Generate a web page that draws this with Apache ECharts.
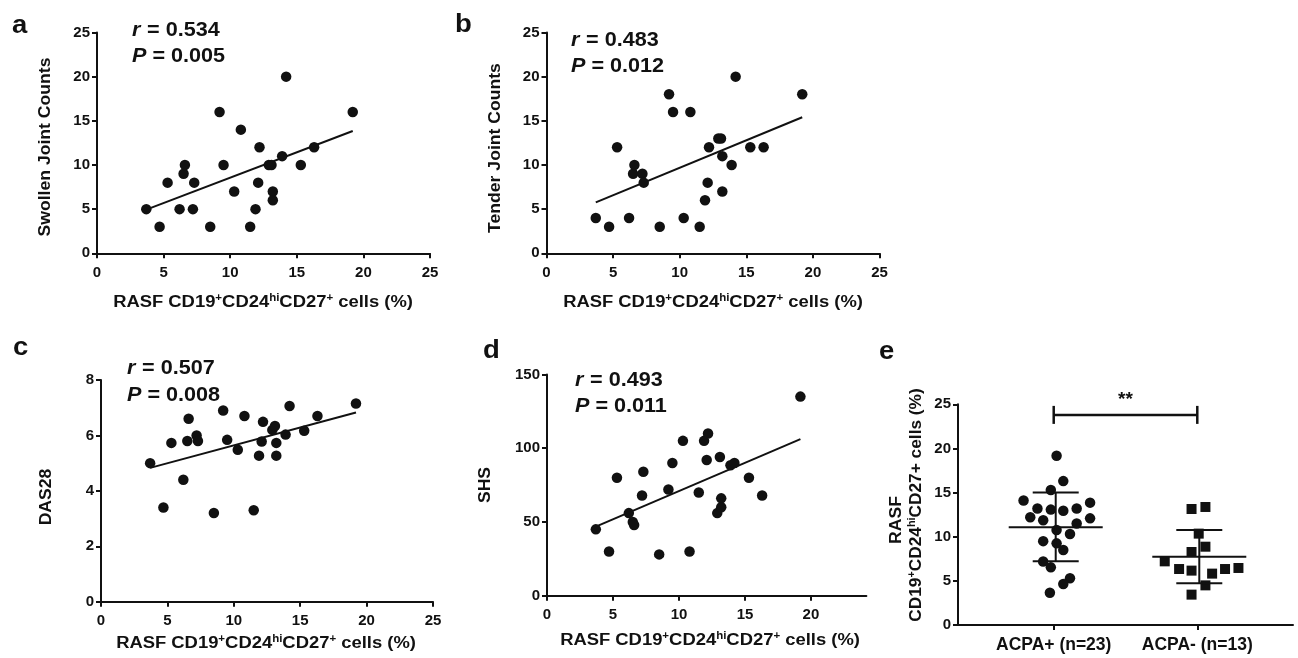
<!DOCTYPE html>
<html><head><meta charset="utf-8">
<script src="https://cdn.jsdelivr.net/npm/echarts@6/dist/echarts.min.js"></script>
<style>html,body{margin:0;padding:0;background:#fff}#c{width:1298px;height:658px}</style>
</head><body><div id="c"></div>
<script>
// ---- data ----
const cellPct = [3.7,4.7,5.3,6.2,6.5,6.6,7.2,7.3,8.5,9.2,9.5,10.3,10.8,11.5,11.9,12.1,12.2,12.9,13.1,13.2,13.2,13.9,14.2,15.3,16.3,19.2];
const swollen = [5,3,8,5,9,10,5,8,3,16,10,7,14,3,5,8,12,10,10,7,6,11,20,10,12,16];
const tender  = [4,3,12,4,9,10,9,8,3,18,16,4,16,3,6,8,12,13,13,7,11,10,20,12,12,18];
const das28   = [5.0,3.4,5.73,4.4,5.8,6.6,6.0,5.8,3.2,6.9,5.84,5.48,6.7,3.3,5.27,5.78,6.49,6.2,6.34,5.73,5.27,6.03,7.06,6.17,6.7,7.15];
const shs     = [45,30,80,56,50,48,68,84,28,72,90,105,30,70,105,92,110,56,94,66,60,88.5,90,80,68,135];

const fitSwollen = [[3.7,4.94],[19.2,13.85]];
const fitTender  = [[3.7,5.77],[19.2,15.4]];
const fitDas     = [[3.7,4.83],[19.2,6.83]];
const fitShs     = [[3.7,46.8],[19.2,106.2]];

const statR = ['0.534','0.483','0.507','0.493'];
const statP = ['0.005','0.012','0.008','0.011'];

const groupLabels = ['ACPA+ (n=23)','ACPA- (n=13)'];
const groupPos = [2,5];
const acpaPosX = [2.06,2.20,1.94,1.37,1.66,1.94,2.20,2.48,2.76,1.51,1.78,2.48,2.76,2.06,2.34,1.78,2.06,2.20,1.78,1.94,2.34,2.20,1.92];
const acpaPosY = [19.18,16.3,15.3,14.1,13.2,13.07,12.95,13.2,13.86,12.2,11.86,11.5,12.08,10.76,10.3,9.5,9.25,8.5,7.2,6.53,5.29,4.65,3.66];
const acpaNegX = [4.88,5.17,5.03,5.17,4.88,4.32,4.62,4.88,5.31,5.58,5.86,5.17,4.88];
const acpaNegY = [13.14,13.37,10.35,8.87,8.27,7.21,6.34,6.16,5.82,6.34,6.46,4.49,3.44];
const groupMean   = [11.07,7.74];
const groupSdLow  = [7.21,4.72];
const groupSdHigh = [15.0,10.76];
const sigBracket = [2,5,23.8];
const sigLabel = '**';

const xTicksD = [0,5,10,15,20];

// ---- styling ----
const FONT = '"Liberation Sans", Arial, Helvetica, sans-serif';
const INK = '#111';

function valAxis(gi, min, max, interval, isX, extra) {
  return Object.assign({
    type: 'value', gridIndex: gi, min: min, max: max, interval: interval,
    axisLine: {show: true, onZero: false, lineStyle: {color: INK, width: 2}},
    axisTick: {show: true, length: 5, lineStyle: {color: INK, width: 2}},
    axisLabel: {color: INK, fontFamily: FONT, fontWeight: 'bold', fontSize: 15, margin: isX ? 12 : 7},
    splitLine: {show: false}
  }, extra || {});
}

const grids = [
  {left: 97,    top: 32.5, width: 333, height: 220.8},
  {left: 546.5, top: 32.5, width: 333, height: 220.8},
  {left: 101,   top: 380,  width: 332, height: 221.7},
  {left: 547,   top: 374.5,width: 319.4, height: 221.2},
  {left: 958,   top: 404.3,width: 335, height: 220.7}
];

const xAxes = [
  valAxis(0, 0, 25, 5, true),
  valAxis(1, 0, 25, 5, true),
  valAxis(2, 0, 25, 5, true),
  valAxis(3, 0, 24.2, 5, true),
  {
    type: 'category', gridIndex: 4, boundaryGap: false,
    data: ['', '', groupLabels[0], '', '', groupLabels[1], '', ''],
    axisLine: {show: true, onZero: false, lineStyle: {color: INK, width: 2}},
    axisTick: {show: true, length: 5, interval: function (i) { return i === groupPos[0] || i === groupPos[1]; }, lineStyle: {color: INK, width: 2}},
    axisLabel: {color: INK, fontFamily: FONT, fontWeight: 'bold', fontSize: 17.5, margin: 11,
      interval: function (i) { return i === groupPos[0] || i === groupPos[1]; }},
    splitLine: {show: false}
  },
  {type: 'value', gridIndex: 4, min: 0, max: 7, show: false}
];
xAxes[3].axisTick.customValues = xTicksD;
xAxes[3].axisLabel.customValues = xTicksD;

const yAxes = [
  valAxis(0, 0, 25, 5, false),
  valAxis(1, 0, 25, 5, false),
  valAxis(2, 0, 8, 2, false),
  valAxis(3, 0, 150, 50, false),
  valAxis(4, 0, 25, 5, false)
];

const dotStyle = {color: INK, opacity: 1};
function pts(ys) { return cellPct.map(function (x, i) { return [x, ys[i]]; }); }
function scatter(i, ys) {
  return {type: 'scatter', xAxisIndex: i, yAxisIndex: i, data: pts(ys), symbol: 'circle', symbolSize: 10.5,
    itemStyle: dotStyle, z: 4, silent: true};
}
function fit(i, d) {
  return {type: 'line', xAxisIndex: i, yAxisIndex: i, data: d, showSymbol: false, symbol: 'none',
    lineStyle: {color: INK, width: 2}, z: 3, silent: true};
}

const series = [
  scatter(0, swollen), fit(0, fitSwollen),
  scatter(1, tender),  fit(1, fitTender),
  scatter(2, das28),   fit(2, fitDas),
  scatter(3, shs),     fit(3, fitShs),
  {type: 'scatter', xAxisIndex: 5, yAxisIndex: 4, symbol: 'circle', symbolSize: 10.5, itemStyle: dotStyle, z: 4, silent: true,
    data: acpaPosX.map(function (x, i) { return [x, acpaPosY[i]]; })},
  {type: 'scatter', xAxisIndex: 5, yAxisIndex: 4, symbol: 'rect', symbolSize: 10, itemStyle: dotStyle, z: 4, silent: true,
    data: acpaNegX.map(function (x, i) { return [x, acpaNegY[i]]; })},
  {type: 'custom', xAxisIndex: 5, yAxisIndex: 4, z: 5, silent: true,
    data: groupMean.map(function (m, i) { return [groupPos[i], m, groupSdLow[i], groupSdHigh[i]]; }),
    renderItem: function (params, api) {
      const x = api.value(0);
      const pm = api.coord([x, api.value(1)]);
      const pl = api.coord([x, api.value(2)]);
      const ph = api.coord([x, api.value(3)]);
      const st = {stroke: INK, lineWidth: 2};
      const cx = pm[0] + 2;
      return {type: 'group', children: [
        {type: 'line', shape: {x1: cx - 47, y1: pm[1], x2: cx + 47, y2: pm[1]}, style: st},
        {type: 'line', shape: {x1: cx, y1: pl[1], x2: cx, y2: ph[1]}, style: st},
        {type: 'line', shape: {x1: cx - 23, y1: pl[1], x2: cx + 23, y2: pl[1]}, style: st},
        {type: 'line', shape: {x1: cx - 23, y1: ph[1], x2: cx + 23, y2: ph[1]}, style: st}
      ]};
    }},
  {type: 'custom', xAxisIndex: 5, yAxisIndex: 4, z: 5, silent: true, clip: false,
    data: [sigBracket],
    renderItem: function (params, api) {
      const a = api.coord([api.value(0), api.value(2)]);
      const b = api.coord([api.value(1), api.value(2)]);
      const st = {stroke: INK, lineWidth: 2.5};
      return {type: 'group', children: [
        {type: 'line', shape: {x1: a[0], y1: a[1], x2: b[0], y2: b[1]}, style: st},
        {type: 'line', shape: {x1: a[0], y1: a[1] - 9, x2: a[0], y2: a[1] + 9}, style: st},
        {type: 'line', shape: {x1: b[0], y1: b[1] - 9, x2: b[0], y2: b[1] + 9}, style: st},
        {type: 'text', x: (a[0] + b[0]) / 2, y: a[1] - 15,
          style: {text: sigLabel, fill: INK, font: 'bold 19px ' + FONT, align: 'center', verticalAlign: 'middle', textAlign: 'center', textVerticalAlign: 'middle'}}
      ]};
    }}
];

// ---- text overlays ----
const richBase = {
  n: {fontFamily: FONT, fontWeight: 'bold', fontSize: 16, color: INK},
  s: {fontFamily: FONT, fontWeight: 'bold', fontSize: 10, color: INK, padding: [0, 0, 10, 0]},
  i: {fontFamily: FONT, fontWeight: 'bold', fontStyle: 'italic', fontSize: 20, color: INK},
  t: {fontFamily: FONT, fontSize: 13, color: INK},
  b: {fontFamily: FONT, fontWeight: 'bold', fontSize: 20, color: INK}
};
const xTitle = '{n|RASF CD19}{s|+}{n|CD24}{s|hi}{n|CD27}{s|+}{n| cells (%)}';
const eTitle = '{n|CD19}{s|+}{n|CD24}{s|hi}{n|CD27+ cells (%)}';

function txt(text, x, y, opts) {
  opts = opts || {};
  return {type: 'text', x: x, y: y, rotation: opts.rot || 0, scaleX: opts.sx || 1, silent: true, z: 10,
    style: {text: text, rich: richBase, fill: INK, font: opts.font || ('bold 16px ' + FONT),
      align: opts.align || 'center', verticalAlign: 'middle', textAlign: opts.align || 'center', textVerticalAlign: 'middle'}};
}

const graphics = [];
[['a',12,26],['b',455,25],['c',13,348],['d',483,351],['e',879,352]].forEach(function (p) {
  graphics.push(txt(p[0], p[1], p[2], {font: 'bold 25px ' + FONT, align: 'left', sx: 1.1}));
});
const statPos = [[132,30.5,56.5],[571,40,66.5],[127,368,395],[575,380,406.5]];
statPos.forEach(function (p, i) {
  graphics.push(txt('{i|r}{t|\u2009 }{b|= ' + statR[i] + '}', p[0], p[1], {align: 'left', sx: 1.08}));
  graphics.push(txt('{i|P}{b| = ' + statP[i] + '}', p[0], p[2], {align: 'left', sx: 1.08}));
});
// x titles
[[263,303],[713,303],[266,644],[710,641]].forEach(function (p) {
  graphics.push(txt(xTitle, p[0], p[1], {sx: 1.15}));
});
// y titles
const yTitles = [['Swollen Joint Counts',46,147],['Tender Joint Counts',496,148],['DAS28',47,497],['SHS',486,485]];
yTitles.forEach(function (t) {
  graphics.push(txt('{n|' + t[0] + '}', t[1], t[2], {rot: Math.PI / 2, sx: 1.1}));
});
graphics.push(txt('{n|RASF}', 897, 520, {rot: Math.PI / 2, sx: 1.1}));
graphics.push(txt(eTitle, 917, 505, {rot: Math.PI / 2, sx: 1.08}));

const option = {
  animation: false,
  backgroundColor: '#fff',
  grid: grids,
  xAxis: xAxes,
  yAxis: yAxes,
  series: series,
  graphic: graphics
};

const chart = echarts.init(document.getElementById('c'), null, {renderer: 'canvas'});
chart.setOption(option);
</script>
</body></html>
